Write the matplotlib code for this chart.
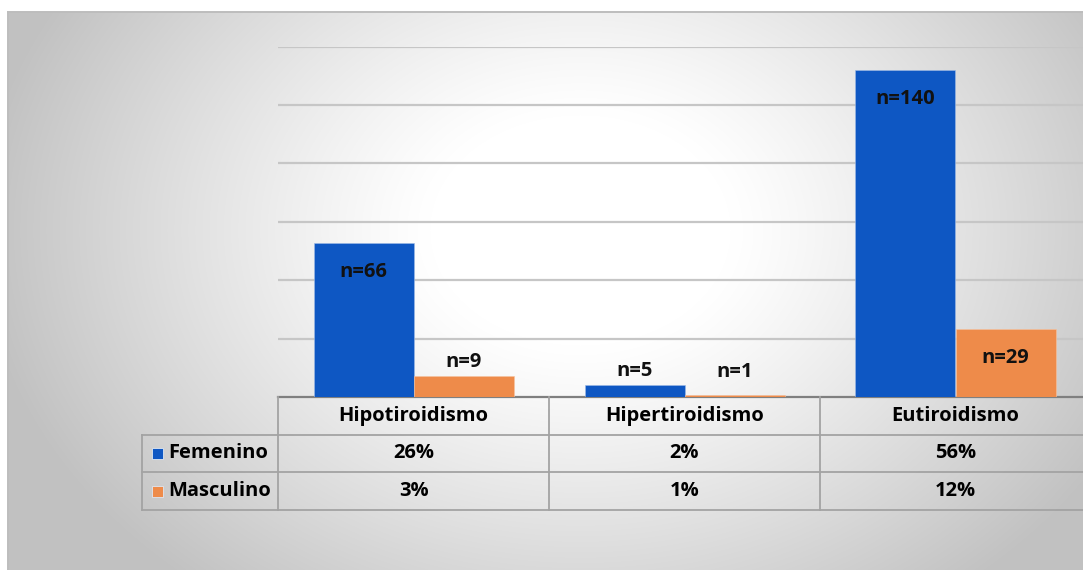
import numpy as np
import matplotlib.pyplot as plt
from matplotlib.patches import Rectangle

# Data
categories = ["Hipotiroidismo", "Hipertiroidismo", "Eutiroidismo"]
series_names = ["Femenino", "Masculino"]
femenino_n = [66, 5, 140]
masculino_n = [9, 1, 29]
femenino_pct = ["26%", "2%", "56%"]
masculino_pct = ["3%", "1%", "12%"]

BLUE = "#0E57C3"
ORANGE = "#EE8B4A"
GRID = "#c6c6c6"
LINE = "#a3a3a3"
FS = 14.5

W, H = 1083, 570
plt.rcParams["font.family"] = ["Open Sans", "DejaVu Sans"]
plt.rcParams["font.weight"] = "bold"

fig = plt.figure(figsize=(W / 100, H / 100), dpi=100)
fig.patch.set_facecolor("white")

# background: elliptical grey-to-white gradient inside the chart area
bg = fig.add_axes([0, 0, 1, 1])
bg.set_xlim(0, W)
bg.set_ylim(H, 0)
bg.axis("off")
yy, xx = np.mgrid[0:H, 0:W]
r = np.sqrt(((xx - 580) / 600.0) ** 2 + ((yy - 230) / 460.0) ** 2)
t = np.clip((r - 0.25) / 0.75, 0, 1)
shade = 1.0 - 0.24 * t ** 1.15
shade[(xx < 8) | (yy < 12)] = 1.0
img = np.dstack([shade, shade, shade])
bg.imshow(img, extent=[0, W, H, 0], interpolation="bilinear", aspect="auto")
bg.plot([8, W], [12, 12], color="#bdbdbd", lw=1.4)
bg.plot([8, 8], [12, H], color="#bdbdbd", lw=1.4)

# plot area (right edge runs past the figure)
left_px, right_px, top_px, base_px = 278, 1091, 46.7, 397
ax = fig.add_axes([left_px / W, 1 - base_px / H, (right_px - left_px) / W, (base_px - top_px) / H])
ax.set_facecolor("none")
ax.set_xlim(0, 3)
ax.set_ylim(0, 150)
ax.set_yticks(np.arange(25, 151, 25))
ax.set_xticks([])
ax.tick_params(left=False, labelleft=False)
ax.grid(axis="y", color=GRID, lw=1.6)
ax.set_axisbelow(True)
for s in ax.spines.values():
    s.set_visible(False)

x = np.arange(len(categories)) + 0.5
w = 100 / 271.0
ax.bar(x - w / 2, femenino_n, w, color=BLUE, edgecolor="#9fbbe6", lw=0.4, zorder=3)
ax.bar(x + w / 2, masculino_n, w, color=ORANGE, edgecolor="#f6c3a0", lw=0.4, zorder=3)

# value labels: inside the bar end, or above it when the bar is short
for xs, vals in [(x - w / 2, femenino_n), (x + w / 2, masculino_n)]:
    for xi, v in zip(xs, vals):
        if v > 20:
            yl = v - 12.4
        else:
            yl = max(v + 6.0, 10.7)
        ax.text(xi, yl, f"n={v}", ha="center", va="center", fontsize=FS,
                fontweight="bold", color="#111111", zorder=4)

# data table under the axis
tab_left, tab_bottom = 142, 510
tx = fig.add_axes([tab_left / W, 1 - tab_bottom / H, (right_px - tab_left) / W, (tab_bottom - base_px) / H])
tx.axis("off")
x0 = -(left_px - tab_left) * 3 / (right_px - left_px)
tx.set_xlim(x0, 3)
tx.set_ylim(3, 0)
ax.set_zorder(tx.get_zorder() + 1)

tx.plot([0, 3], [0, 0], color="#7f7f7f", lw=1.6, clip_on=False)
for yv in [1, 2, 3]:
    tx.plot([x0, 3], [yv, yv], color=LINE, lw=1.3, clip_on=False)
tx.plot([x0, x0], [1, 3], color=LINE, lw=1.3, clip_on=False)
for xv in [0, 1, 2, 3]:
    tx.plot([xv, xv], [0, 3], color=LINE, lw=1.3, clip_on=False)

for i, cat in enumerate(categories):
    tx.text(i + 0.5, 0.5, cat, ha="center", va="center", fontsize=FS, fontweight="bold")
    tx.text(i + 0.5, 1.5, femenino_pct[i], ha="center", va="center", fontsize=FS, fontweight="bold")
    tx.text(i + 0.5, 2.5, masculino_pct[i], ha="center", va="center", fontsize=FS, fontweight="bold")

px = 3 / (right_px - left_px)
for row, (name, col) in enumerate(zip(series_names, [BLUE, ORANGE])):
    yc = row + 1.5
    tx.add_patch(Rectangle(((152 - left_px) * px, yc - 0.15), 11 * px, 0.30,
                           facecolor=col, edgecolor="#dfe7f3", lw=0.6, clip_on=False))
    tx.text((168 - left_px) * px, yc, name, ha="left", va="center", fontsize=FS, fontweight="bold")

fig.savefig("out.png", dpi=100)
